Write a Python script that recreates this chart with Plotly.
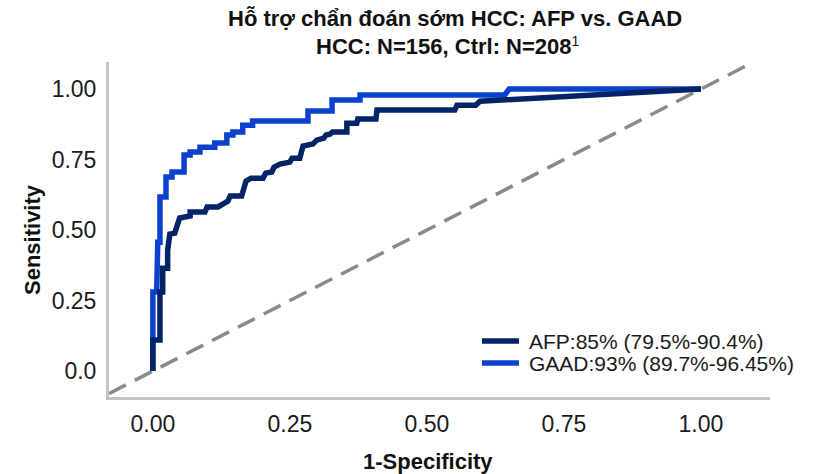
import plotly.graph_objects as go

# ROC vertices (false positive rate, sensitivity)
afp_fpr = [0.0, 0.0, 0.013, 0.013, 0.018, 0.018, 0.027, 0.027, 0.031, 0.040, 0.044, 0.049,
           0.068, 0.068, 0.095, 0.099, 0.119, 0.137, 0.141, 0.162, 0.170, 0.179, 0.201,
           0.206, 0.217, 0.221, 0.232, 0.250, 0.254, 0.268, 0.274, 0.292, 0.299, 0.312,
           0.316, 0.323, 0.328, 0.354, 0.354, 0.372, 0.374, 0.407, 0.409, 0.551, 0.555,
           0.589, 0.597, 1.0]
afp_tpr = [0.0, 0.110, 0.110, 0.280, 0.280, 0.365, 0.365, 0.429, 0.486, 0.489, 0.514, 0.543,
           0.550, 0.564, 0.564, 0.582, 0.582, 0.603, 0.621, 0.621, 0.674, 0.684, 0.684,
           0.702, 0.706, 0.723, 0.734, 0.741, 0.755, 0.755, 0.798, 0.805, 0.819, 0.826,
           0.837, 0.840, 0.848, 0.848, 0.879, 0.879, 0.894, 0.894, 0.926, 0.926, 0.943,
           0.943, 0.957, 1.0]

gaad_fpr = [0.0, 0.0, 0.007, 0.007, 0.009, 0.009, 0.013, 0.013, 0.024, 0.024, 0.035, 0.035,
            0.057, 0.057, 0.068, 0.068, 0.086, 0.086, 0.113, 0.113, 0.135, 0.135, 0.146,
            0.146, 0.164, 0.164, 0.182, 0.182, 0.283, 0.283, 0.327, 0.327, 0.378, 0.378,
            0.642, 0.650, 1.0]
gaad_tpr = [0.0, 0.280, 0.280, 0.387, 0.387, 0.457, 0.457, 0.617, 0.617, 0.688, 0.688, 0.706,
            0.706, 0.766, 0.766, 0.777, 0.777, 0.794, 0.794, 0.809, 0.809, 0.837, 0.837,
            0.848, 0.848, 0.872, 0.872, 0.887, 0.887, 0.922, 0.922, 0.961, 0.961, 0.979,
            0.979, 1.0, 1.0]

ref_line = [-0.08, 1.08]

afp_label = "AFP:85% (79.5%-90.4%)"
gaad_label = "GAAD:93% (89.7%-96.45%)"

x_ticks = [0, 0.25, 0.5, 0.75, 1.0]
x_ticktext = ["0.00", "0.25", "0.50", "0.75", "1.00"]
y_ticks = [0, 0.25, 0.5, 0.75, 1.0]
y_ticktext = ["0.0", "0.25", "0.50", "0.75", "1.00"]

title_line1 = "Hỗ trợ chẩn đoán sớm HCC: AFP vs. GAAD"
title_line2 = ("HCC: N=156, Ctrl: N=208"
               "<span style='font-weight:normal;font-size:20px'><sup>1</sup></span>")

AFP_COLOR = "#022366"
GAAD_COLOR = "#0B41CD"
FONT = "Liberation Sans, Arial, sans-serif"

W, H = 816, 474
ML, MR, MT, MB = 109, 46, 62, 77
PLOT_W = W - ML - MR
PLOT_H = H - MT - MB


def px_x(x):
    """Horizontal pixel position -> paper fraction."""
    return (x - ML) / PLOT_W


def px_y(y):
    """Vertical pixel position (from top) -> paper fraction."""
    return (H - MB - y) / PLOT_H


fig = go.Figure()

fig.add_trace(go.Scatter(
    x=ref_line, y=ref_line, mode="lines", showlegend=False, hoverinfo="skip",
    line=dict(color="#8a8a8a", width=3.5, dash="19px,10px"),
))
fig.add_trace(go.Scatter(
    x=gaad_fpr, y=gaad_tpr, mode="lines", name=gaad_label, showlegend=False,
    line=dict(color=GAAD_COLOR, width=5.5),
))
fig.add_trace(go.Scatter(
    x=afp_fpr, y=afp_tpr, mode="lines", name=afp_label, showlegend=False,
    line=dict(color=AFP_COLOR, width=5.5),
))

title_font = dict(size=22, family=FONT, color="#111111", weight="bold")
axis_title_font = dict(size=22, family=FONT, color="#111111", weight="bold")
legend_font = dict(size=21, family=FONT, color="#1a1a1a")

annotations = [
    dict(text=title_line1, x=px_x(455), y=px_y(19), font=title_font),
    dict(text=title_line2, x=px_x(448), y=px_y(46), font=title_font),
    dict(text="1-Specificity", x=px_x(428), y=px_y(461), font=axis_title_font),
    dict(text="Sensitivity", x=px_x(33), y=px_y(240), textangle=-90, font=axis_title_font),
]
shapes = []

# legend drawn as short line samples with labels
for label, color, row_y in [(afp_label, AFP_COLOR, 341), (gaad_label, GAAD_COLOR, 363)]:
    shapes.append(dict(type="line", xref="paper", yref="paper",
                       x0=px_x(482), x1=px_x(519), y0=px_y(row_y), y1=px_y(row_y),
                       line=dict(color=color, width=5.5)))
    annotations.append(dict(text=label, x=px_x(527), y=px_y(row_y), xanchor="left",
                            font=legend_font))

for a in annotations:
    a.setdefault("xanchor", "center")
    a.update(xref="paper", yref="paper", yanchor="middle", showarrow=False)

fig.update_layout(
    width=W, height=H,
    margin=dict(l=ML, r=MR, t=MT, b=MB),
    paper_bgcolor="white", plot_bgcolor="white",
    font=dict(family=FONT, color="#1a1a1a"),
    showlegend=False,
    xaxis=dict(
        range=[-0.080, 1.126], tickvals=x_ticks, ticktext=x_ticktext,
        showgrid=False, zeroline=False, showline=True, linecolor="#c3c3c3", linewidth=3,
        ticks="", ticklabelstandoff=4, tickfont=dict(size=23, family=FONT, color="#1a1a1a"),
    ),
    yaxis=dict(
        range=[-0.092, 1.096], tickvals=y_ticks, ticktext=y_ticktext,
        showgrid=False, zeroline=False, showline=True, linecolor="#c3c3c3", linewidth=3,
        ticks="", ticklabelstandoff=5, tickfont=dict(size=23, family=FONT, color="#1a1a1a"),
    ),
    annotations=annotations,
    shapes=shapes,
)

fig.write_html("out.html")
